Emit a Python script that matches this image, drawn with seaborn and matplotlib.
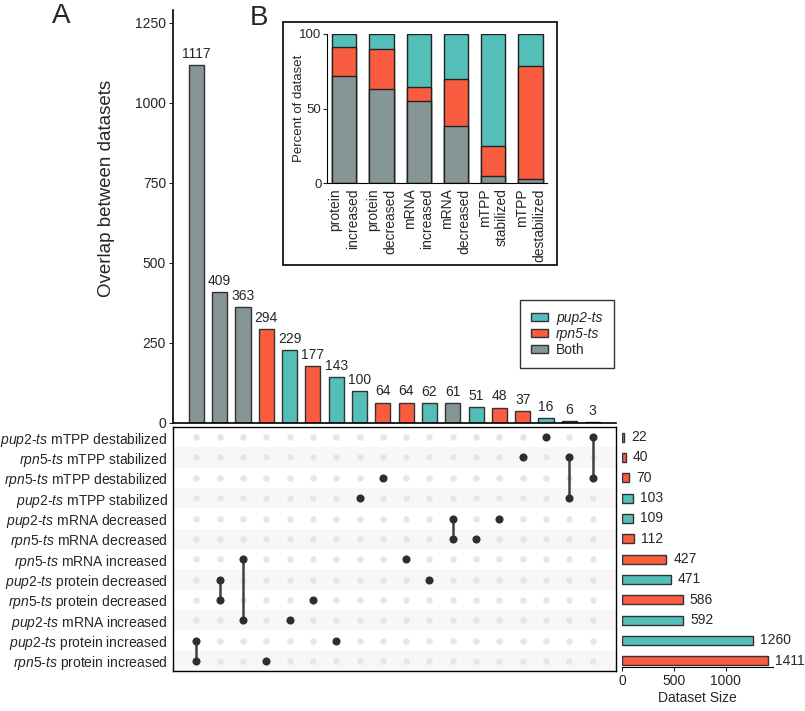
import numpy as np
import pandas as pd
import seaborn as sns
import matplotlib.pyplot as plt
from matplotlib.patches import Patch, Rectangle

sns.set_style("white")
plt.rcParams['font.family'] = ['Liberation Sans', 'DejaVu Sans']
plt.rcParams['mathtext.fontset'] = 'custom'
plt.rcParams['mathtext.rm'] = 'Liberation Sans'
plt.rcParams['mathtext.it'] = 'Liberation Sans:italic'

TEAL = '#54BEB9'
RED = '#F95C3F'
GRAY = '#869595'
EDGE = '#333333'
pal = {'pup2-ts': TEAL, 'rpn5-ts': RED, 'Both': GRAY}

# datasets (matrix rows, top to bottom)
strains = ['pup2-ts', 'rpn5-ts', 'rpn5-ts', 'pup2-ts', 'pup2-ts', 'rpn5-ts',
           'rpn5-ts', 'pup2-ts', 'rpn5-ts', 'pup2-ts', 'pup2-ts', 'rpn5-ts']
measures = ['mTPP destabilized', 'mTPP stabilized', 'mTPP destabilized', 'mTPP stabilized',
            'mRNA decreased', 'mRNA decreased', 'mRNA increased', 'protein decreased',
            'protein decreased', 'mRNA increased', 'protein increased', 'protein increased']
set_sizes = [22, 40, 70, 103, 109, 112, 427, 471, 586, 592, 1260, 1411]

# intersections (left to right)
inter_counts = [1117, 409, 363, 294, 229, 177, 143, 100, 64, 64, 62, 61, 51, 48, 37, 16, 6, 3]
inter_groups = ['Both', 'Both', 'Both', 'rpn5-ts', 'pup2-ts', 'rpn5-ts', 'pup2-ts', 'pup2-ts',
                'rpn5-ts', 'rpn5-ts', 'pup2-ts', 'Both', 'pup2-ts', 'rpn5-ts', 'rpn5-ts',
                'pup2-ts', 'Both', 'Both']
inter_members = [[10, 11], [7, 8], [6, 9], [11], [9], [8], [10], [3], [2], [6], [7],
                 [4, 5], [5], [4], [1], [0], [1, 3], [0, 2]]

# inset B: percent of dataset
inset_cats = ['protein\nincreased', 'protein\ndecreased', 'mRNA\nincreased',
              'mRNA\ndecreased', 'mTPP\nstabilized', 'mTPP\ndestabilized']
pct_both = [71.5, 63, 55, 38, 4.5, 3]
pct_rpn5 = [19.5, 27, 9.5, 32, 20.5, 75.5]
pct_pup2 = [9, 10, 35.5, 30, 75, 21.5]

fig = plt.figure(figsize=(8.05, 7.11), dpi=100)


def px_axes(x0, y0, x1, y1):
    return fig.add_axes([x0 / 805, 1 - y1 / 711, (x1 - x0) / 805, (y1 - y0) / 711])


ax_top = px_axes(173, 10, 616, 423)
ax_mat = px_axes(173, 427, 616, 671)
ax_size = px_axes(622, 427, 773, 667)
ax_in = px_axes(327, 34, 547, 183)

# top intersection bars
top_df = pd.DataFrame({'pos': range(len(inter_counts)), 'count': inter_counts, 'group': inter_groups})
sns.barplot(data=top_df, x='pos', y='count', hue='group', palette=pal, dodge=False, saturation=1,
            width=0.65, edgecolor=EDGE, linewidth=1, legend=False, ax=ax_top)
for i, c in enumerate(inter_counts):
    ax_top.annotate(str(c), (i, c), xytext=(0, 3), textcoords='offset points',
                    ha='center', va='bottom', fontsize=10)
ax_top.set_xlim(-1, 18)
ax_top.set_ylim(0, 1290)
ax_top.set_xticks([])
ax_top.set_yticks([0, 250, 500, 750, 1000, 1250])
ax_top.tick_params(axis='y', left=True, length=3, labelsize=10, pad=2)
ax_top.set_xlabel('')
ax_top.set_ylabel('Overlap between datasets', fontsize=13.5)
ax_top.yaxis.set_label_coords(-0.131, 0.567)
for s in ['top', 'right']:
    ax_top.spines[s].set_visible(False)
for s in ['left', 'bottom']:
    ax_top.spines[s].set_color('black')
    ax_top.spines[s].set_linewidth(1.2)

# matrix
ax_mat.set_xlim(-1, 18)
ax_mat.set_ylim(11.5, -0.5)
for r in range(1, 12, 2):
    ax_mat.axhspan(r - 0.5, r + 0.5, color='#F7F7F7', zorder=0, lw=0)
grid = pd.DataFrame([(c, r) for c in range(len(inter_counts)) for r in range(len(set_sizes))],
                    columns=['col', 'row'])
sns.scatterplot(data=grid, x='col', y='row', color='#E4E7E7', s=22, linewidth=0, ax=ax_mat, zorder=2)
for c, mem in enumerate(inter_members):
    if len(mem) > 1:
        ax_mat.plot([c, c], [min(mem), max(mem)], color='#3C4242', lw=1.8, zorder=3)
act = pd.DataFrame([(c, r) for c, mem in enumerate(inter_members) for r in mem], columns=['col', 'row'])
sns.scatterplot(data=act, x='col', y='row', color='#2B2F2F', s=34, linewidth=0, ax=ax_mat, zorder=4)
ax_mat.set_xticks([])
ax_mat.set_yticks(range(len(set_sizes)))
row_labels = ['$\\mathit{%s}$-$\\mathit{ts}$ %s' % (s.split('-')[0], m) for s, m in zip(strains, measures)]
ax_mat.set_yticklabels(row_labels, fontsize=10)
ax_mat.tick_params(axis='y', length=0, pad=4)
ax_mat.set_xlabel('')
ax_mat.set_ylabel('')
for s in ax_mat.spines.values():
    s.set_visible(True)
    s.set_color('black')
    s.set_linewidth(1)

# dataset size bars
size_df = pd.DataFrame({'row': range(len(set_sizes)), 'size': set_sizes, 'strain': strains})
sns.barplot(data=size_df, y='row', x='size', hue='strain', palette=pal, dodge=False, orient='h',
            saturation=1, width=0.45, edgecolor=EDGE, linewidth=1, legend=False, ax=ax_size)
for i, v in enumerate(set_sizes):
    ax_size.annotate(str(v), (v, i), xytext=(5, 0), textcoords='offset points',
                     va='center', ha='left', fontsize=10)
ax_size.set_ylim(11.5 - 4 / 20.4, -0.5)
ax_size.set_xlim(0, 1456)
ax_size.set_xticks([0, 500, 1000])
ax_size.set_yticks([])
ax_size.tick_params(axis='x', bottom=True, length=3, labelsize=10, pad=2)
ax_size.set_xlabel('Dataset Size', fontsize=10, labelpad=2)
ax_size.set_ylabel('')
for s in ['top', 'right', 'left']:
    ax_size.spines[s].set_visible(False)
ax_size.spines['bottom'].set_color('black')

# inset B
mid = [b + r for b, r in zip(pct_both, pct_rpn5)]
top = [m + p for m, p in zip(mid, pct_pup2)]
sns.barplot(x=inset_cats, y=top, color=TEAL, saturation=1, width=0.65, edgecolor='#222222', linewidth=1, ax=ax_in)
sns.barplot(x=inset_cats, y=mid, color=RED, saturation=1, width=0.65, edgecolor='#222222', linewidth=1, ax=ax_in)
sns.barplot(x=inset_cats, y=pct_both, color=GRAY, saturation=1, width=0.65, edgecolor='#222222', linewidth=1, ax=ax_in)
ax_in.set_xlim(-0.46, 5.44)
ax_in.set_ylim(0, 100)
ax_in.set_yticks([0, 50, 100])
ax_in.tick_params(axis='y', left=True, length=3, labelsize=9.5, pad=1)
ax_in.tick_params(axis='x', length=0, pad=4)
for lab in ax_in.get_xticklabels():
    lab.set_rotation(90)
    lab.set_fontsize(10)
    lab.set_multialignment('right')
    lab.set_linespacing(1.3)
ax_in.set_ylabel('Percent of dataset', fontsize=9.5)
ax_in.yaxis.set_label_coords(-0.1, 0.5)
for s in ['top', 'right']:
    ax_in.spines[s].set_visible(False)
for s in ['left', 'bottom']:
    ax_in.spines[s].set_color('black')

fig.patches.append(Rectangle((283 / 805, 1 - 265 / 711), 274 / 805, 243 / 711,
                             transform=fig.transFigure, fill=False, edgecolor='black', lw=1.2))

# legend
handles = [Patch(facecolor=pal[k], edgecolor=EDGE, label=k) for k in ['pup2-ts', 'rpn5-ts', 'Both']]
leg = fig.legend(handles=handles, loc='upper left', bbox_to_anchor=(520 / 805, 1 - 300 / 711),
                 frameon=True, fancybox=False, edgecolor='black', fontsize=10, borderaxespad=0,
                 handlelength=1.2, handleheight=0.5, handletextpad=0.6, borderpad=0.8,
                 labelspacing=0.15)
leg.get_frame().set_linewidth(1)
leg.get_texts()[0].set_fontstyle('italic')
leg.get_texts()[1].set_fontstyle('italic')

fig.text(61 / 805, 1 - 23 / 711, 'A', fontsize=20, ha='center', va='baseline')
fig.text(259 / 805, 1 - 25 / 711, 'B', fontsize=20, ha='center', va='baseline')

fig.savefig('out.png', dpi=100)
